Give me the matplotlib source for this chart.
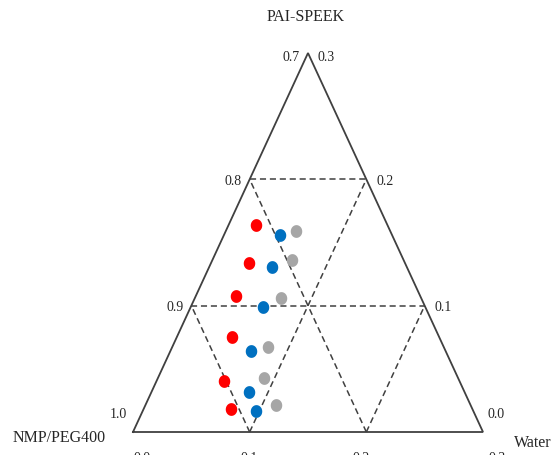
import numpy as np
import matplotlib
matplotlib.use("Agg")
import matplotlib.pyplot as plt
from matplotlib.path import Path

plt.rcParams['font.family'] = ['Liberation Serif', 'DejaVu Serif']

# axis titles and tick labels of the zoomed ternary diagram
top_label = "PAI-SPEEK"
left_label = "NMP/PEG400"
right_label = "Water"
solvent_ticks = ["1.0", "0.9", "0.8", "0.7"]
polymer_ticks = ["0.0", "0.1", "0.2", "0.3"]
water_ticks = ["0.0", "0.1", "0.2", "0.3"]
tick_values = [0.0, 0.1, 0.2, 0.3]

# compositions (mass fractions of water and PAI-SPEEK), solvent is the rest
red_water = [0.023, 0.032, 0.034, 0.047, 0.058, 0.075]
red_polymer = [0.164, 0.134, 0.108, 0.075, 0.040, 0.018]
blue_water = [0.048, 0.054, 0.062, 0.069, 0.083, 0.097]
blue_polymer = [0.156, 0.131, 0.099, 0.064, 0.032, 0.017]
gray_water = [0.060, 0.068, 0.074, 0.082, 0.091, 0.112]
gray_polymer = [0.159, 0.136, 0.106, 0.067, 0.043, 0.021]

SPAN = 0.3
LINE = '#404040'
TEXT = '#262626'

# slightly tall ellipse marker, the original picture is stretched vertically
_t = np.linspace(0, 2 * np.pi, 40)
ELLIPSE = Path(np.column_stack([0.45 * np.cos(_t), 0.5 * np.sin(_t)]), closed=True)


# convert water / polymer fractions to cartesian coordinates in the triangle
def to_xy(water, polymer):
    xs = [w + p / 2 for w, p in zip(water, polymer)]
    ys = list(polymer)
    return xs, ys


def main():
    fig = plt.figure(figsize=(5.51, 4.55), dpi=100)
    ax = fig.add_axes([133 / 551, 23 / 455, 350 / 551, 379 / 455])
    ax.set_xlim(0, SPAN)
    ax.set_ylim(0, SPAN)
    ax.axis('off')

    # outline
    x, y = to_xy([0, SPAN, 0, 0], [0, 0, SPAN, 0])
    ax.plot(x, y, color=LINE, lw=1.3, solid_joinstyle='miter', clip_on=False)

    dash = dict(color=LINE, lw=1.1, linestyle=(0, (4, 2.5)), clip_on=False)
    for c in tick_values[1:-1]:
        # constant polymer
        x, y = to_xy([0, SPAN - c], [c, c])
        ax.plot(x, y, **dash)
        # constant water
        x, y = to_xy([c, c], [0, SPAN - c])
        ax.plot(x, y, **dash)
        # constant solvent
        x, y = to_xy([c, 0], [0, c])
        ax.plot(x, y, **dash)

    for water, polymer, color in [(red_water, red_polymer, '#ff0000'),
                                  (blue_water, blue_polymer, '#0070c0'),
                                  (gray_water, gray_polymer, '#a6a6a6')]:
        x, y = to_xy(water, polymer)
        ax.plot(x, y, linestyle='none', marker=ELLIPSE, color=color, ms=9.2,
                mec='none', clip_on=False)

    fs = 10
    # left side ticks (solvent)
    for i, (v, lab) in enumerate(zip(tick_values, solvent_ticks)):
        x, y = to_xy([0], [v])
        off = (-6, 17) if i == 0 else (-8, -5) if i == 3 else (-8, -2)
        ax.annotate(lab, (x[0], y[0]), xytext=off, textcoords='offset pixels',
                    ha='right', va='center', fontsize=fs, color=TEXT, annotation_clip=False)
    # right side ticks (polymer)
    for i, (v, lab) in enumerate(zip(tick_values, polymer_ticks)):
        x, y = to_xy([SPAN - v], [v])
        off = (5, 18) if i == 0 else (9, -5) if i == 3 else (10, -2)
        ax.annotate(lab, (x[0], y[0]), xytext=off, textcoords='offset pixels',
                    ha='left', va='center', fontsize=fs, color=TEXT, annotation_clip=False)
    # bottom ticks (water)
    bottom_off = [9, -1, -5, 14]
    for v, lab, dx in zip(tick_values, water_ticks, bottom_off):
        x, y = to_xy([v], [0])
        ax.annotate(lab, (x[0], y[0]), xytext=(dx, -20), textcoords='offset pixels',
                    ha='center', va='top', fontsize=fs, color=TEXT, annotation_clip=False)

    fig.text(306 / 551, 1 - 17 / 455, top_label, ha='center', va='center',
             fontsize=11.5, color=TEXT)
    fig.text(13 / 551, 1 - 438 / 455, left_label, ha='left', va='center',
             fontsize=11.5, color=TEXT)
    fig.text(514 / 551, 1 - 443 / 455, right_label, ha='left', va='center',
             fontsize=11.5, color=TEXT)

    fig.savefig('out.png', dpi=100)


if __name__ == '__main__':
    main()
